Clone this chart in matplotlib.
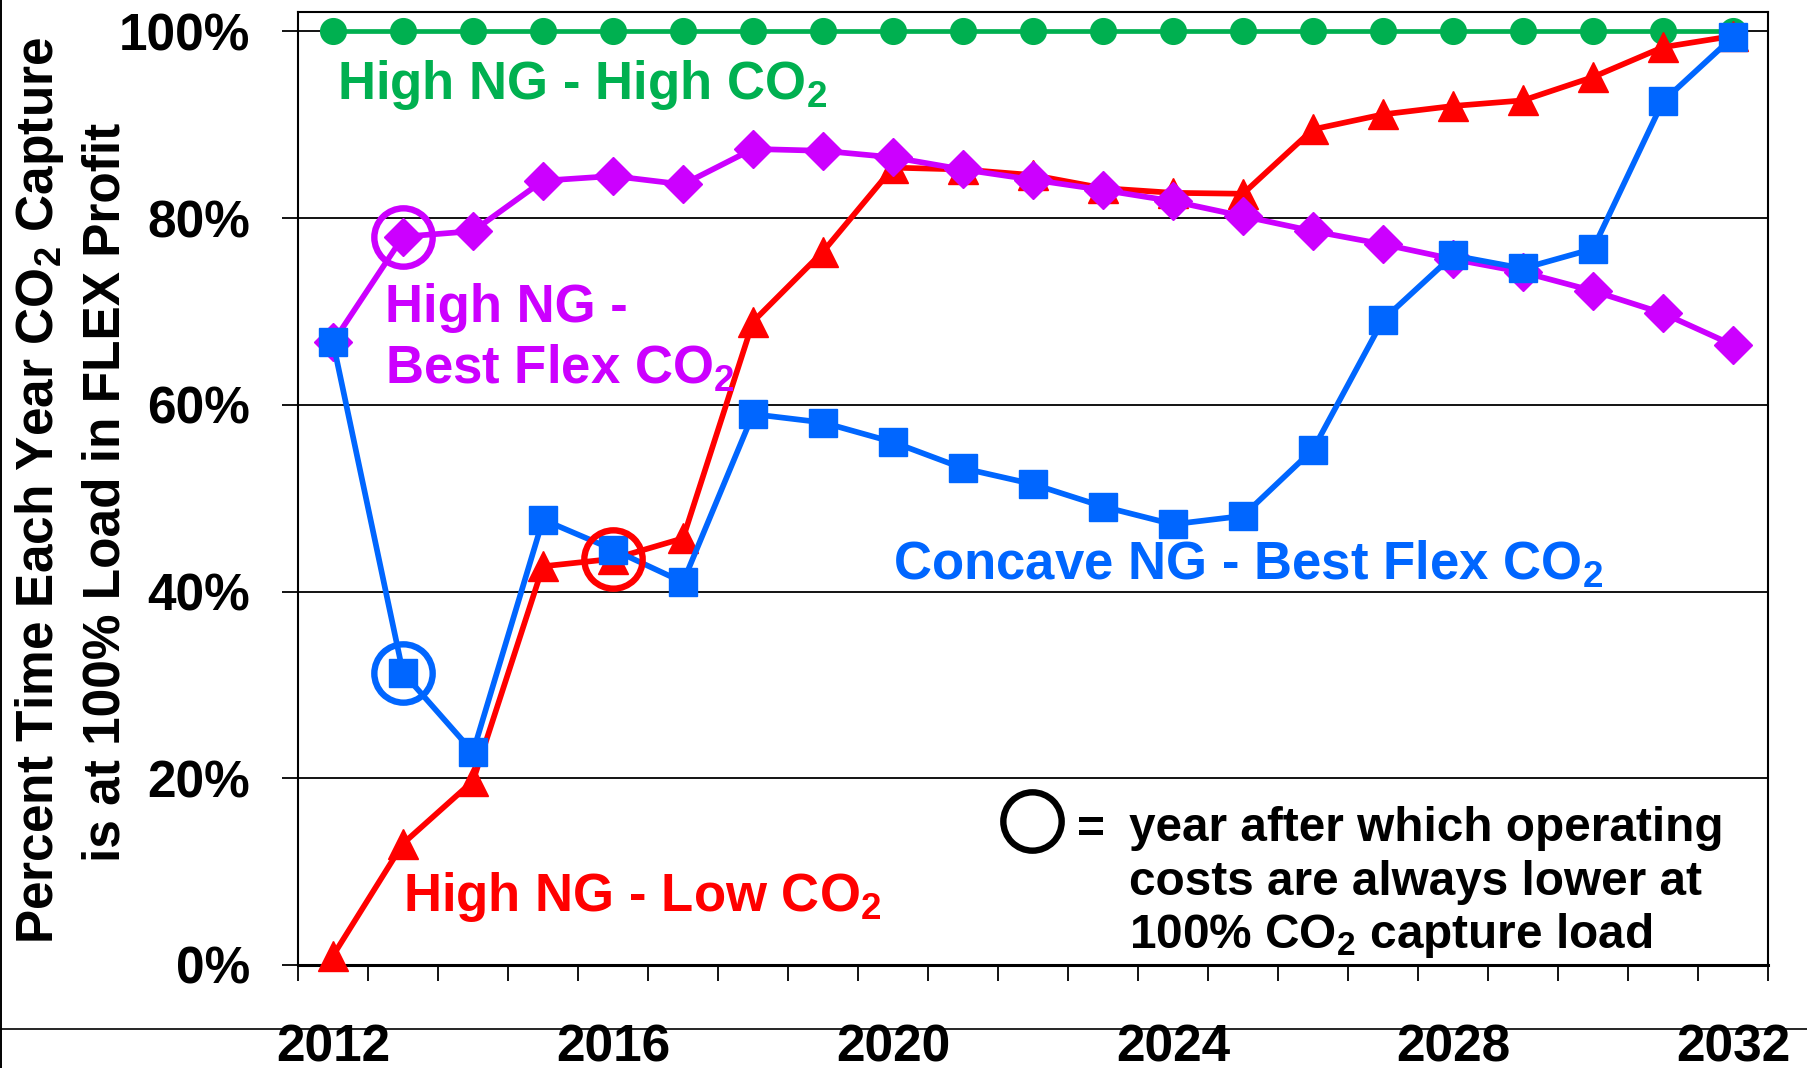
import matplotlib
matplotlib.use("Agg")
import matplotlib.pyplot as plt
from matplotlib.lines import Line2D

plt.rcParams['font.family'] = ['Liberation Sans', 'DejaVu Sans']
plt.rcParams['font.weight'] = 'bold'
plt.rcParams['mathtext.default'] = 'regular'

# ---------------------------------------------------------------- data
years = list(range(2012, 2033))

high_ng_high_co2 = [100, 100, 100, 100, 100, 100, 100, 100, 100, 100, 100,
                    100, 100, 100, 100, 100, 100, 100, 100, 100, 100]
high_ng_low_co2 = [1.0, 13.0, 19.7, 42.7, 43.5, 45.7, 68.9, 76.4, 85.4, 85.2, 84.6,
                   83.2, 82.7, 82.6, 89.5, 91.1, 92.0, 92.6, 95.1, 98.3, 99.5]
high_ng_best_flex = [66.7, 78.0, 78.6, 84.0, 84.5, 83.6, 87.4, 87.2, 86.5, 85.2, 84.1,
                     83.0, 81.8, 80.2, 78.6, 77.2, 75.6, 74.2, 72.2, 69.8, 66.4]
concave_ng_best_flex = [66.7, 31.3, 22.8, 47.7, 44.5, 41.0, 59.0, 58.1, 56.0, 53.2, 51.5,
                        49.1, 47.2, 48.1, 55.2, 69.1, 76.0, 74.6, 76.7, 92.5, 99.4]

# year after which operating costs stay lower at full capture load
breakeven_best_flex = 2013
breakeven_low_co2 = 2016
breakeven_concave = 2013

xtick_years = [2012, 2016, 2020, 2024, 2028, 2032]
ytick_values = [0, 20, 40, 60, 80, 100]
ytick_labels = ['0%', '20%', '40%', '60%', '80%', '100%']

GREEN = '#00B050'
RED = '#FF0000'
MAGENTA = '#CC00FF'
BLUE = '#0066FF'

# ---------------------------------------------------------------- figure
W, H = 1807, 1068
fig = plt.figure(figsize=(W / 100, H / 100), dpi=100)
ax = fig.add_axes([298 / W, 1 - 965 / H, (1768 - 298) / W, (965 - 11.7) / H])

ax.set_xlim(2011.5, 2032.5)
ax.set_ylim(0, 102.1)

# grid and frame
ax.set_axisbelow(True)
ax.yaxis.grid(True, color='black', lw=1.3)
for side in ['left', 'right', 'top']:
    ax.spines[side].set_linewidth(1.5)
ax.spines['bottom'].set_linewidth(2.2)

# ticks
ax.set_yticks(ytick_values)
ax.set_yticklabels(ytick_labels)
ax.tick_params(axis='y', direction='out', length=11.5, width=1.3, pad=23,
               labelsize=37)
ax.set_xticks(xtick_years)
ax.set_xticklabels([str(y) for y in xtick_years])
ax.set_xticks([y - 0.5 for y in years] + [years[-1] + 0.5], minor=True)
ax.tick_params(axis='x', which='major', length=0, pad=42, labelsize=37)
ax.tick_params(axis='x', which='minor', direction='out', length=11.5, width=1.3)

# series
ax.plot(years, high_ng_high_co2, color=GREEN, lw=3.4, marker='o', ms=18.5,
        zorder=3, clip_on=False)
ax.plot(years, high_ng_low_co2, color=RED, lw=4.1, marker='^', ms=22,
        zorder=4, clip_on=False)
ax.plot(years, high_ng_best_flex, color=MAGENTA, lw=4.1, marker='D', ms=19.5,
        zorder=5, clip_on=False)
ax.plot(years, concave_ng_best_flex, color=BLUE, lw=4.1, marker='s', ms=20.5,
        zorder=6, clip_on=False)

# rings marking the break-even year of each case
ring = dict(marker='o', ms=42, mfc='none', mew=4.6, ls='none', zorder=7,
            clip_on=False)
ax.plot([breakeven_best_flex],
        [high_ng_best_flex[years.index(breakeven_best_flex)]], mec=MAGENTA, **ring)
ax.plot([breakeven_concave],
        [concave_ng_best_flex[years.index(breakeven_concave)]], mec=BLUE, **ring)
ax.plot([breakeven_low_co2],
        [high_ng_low_co2[years.index(breakeven_low_co2)]], mec=RED, **ring)

# series labels
lab = dict(fontsize=38, fontweight='bold', ha='left', va='baseline', zorder=8)
ax.text(2012.06, 92.76, 'High NG - High CO$_2$', color=GREEN, **lab)
ax.text(2012.74, 68.82, 'High NG -', color=MAGENTA, **lab)
ax.text(2012.74, 62.22, 'Best Flex CO$_2$', color=MAGENTA, **lab)
ax.text(2020.00, 41.25, 'Concave NG - Best Flex CO$_2$', color=BLUE, **lab)
ax.text(2013.00, 5.79, 'High NG - Low CO$_2$', color=RED, **lab)

# key for the rings
ax.plot([2021.98], [15.43], marker='o', ms=42, mfc='none', mec='black', mew=4.6,
        ls='none', zorder=8)
note = dict(fontsize=34.4, fontweight='bold', ha='left', va='baseline',
            color='black', zorder=8)
ax.text(2022.63, 13.1, '=', **note)
ax.text(2023.37, 13.29, 'year after which operating', **note)
ax.text(2023.37, 7.50, 'costs are always lower at', **note)
ax.text(2023.37, 1.82, '100% CO$_2$ capture load', **note)

# axis title (two centred lines)
fig.text(40 / W, 1 - 490 / H, 'Percent Time Each Year CO$_2$ Capture',
         rotation=90, ha='center', va='center', fontsize=37, fontweight='bold')
fig.text(106 / W, 1 - 492 / H, 'is at 100% Load in FLEX Profit',
         rotation=90, ha='center', va='center', fontsize=37, fontweight='bold')

# slide frame lines
fig.add_artist(Line2D([0, 1], [1 - 1029 / H, 1 - 1029 / H],
                      transform=fig.transFigure, color='black', lw=1.2))
fig.add_artist(Line2D([0.8 / W, 0.8 / W], [0, 1],
                      transform=fig.transFigure, color='black', lw=1.4))

fig.savefig('out.png', dpi=100)
